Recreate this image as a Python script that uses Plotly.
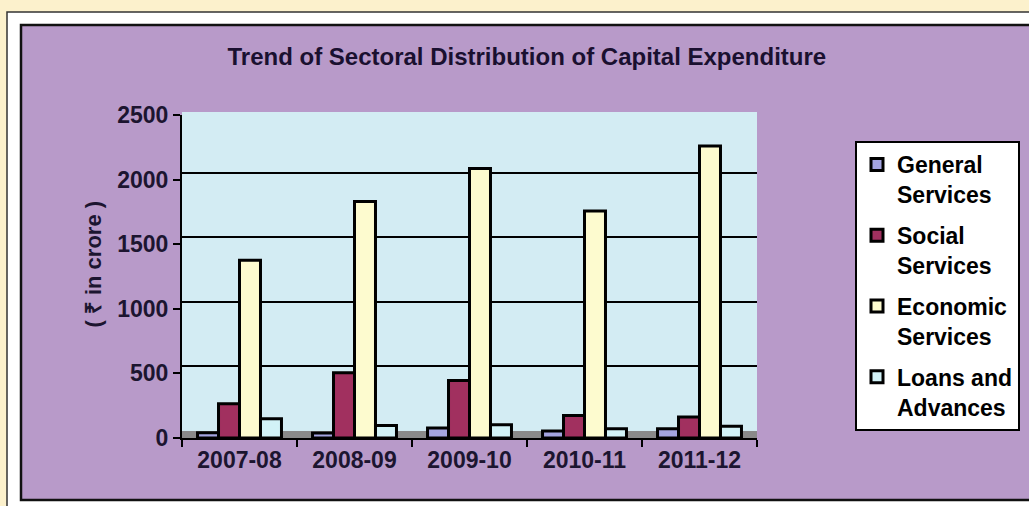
import plotly.graph_objects as go

years = ["2007-08", "2008-09", "2009-10", "2010-11", "2011-12"]
general = [40, 38, 77, 54, 71]
social = [265, 505, 445, 174, 162]
economic = [1375, 1830, 2085, 1757, 2260]
loans = [149, 97, 102, 71, 91]

series_names = ["General<br>Services", "Social<br>Services", "Economic<br>Services", "Loans and<br>Advances"]
series_values = [general, social, economic, loans]
colors = ["#a4a4e0", "#a1305f", "#fdfbcf", "#d2f2f7"]

y_ticks = [0, 500, 1000, 1500, 2000, 2500]
grid_ticks = [500, 1000, 1500, 2000]

fig = go.Figure()
for i, (name, vals, col) in enumerate(zip(series_names, series_values, colors)):
    fig.add_trace(go.Bar(
        x=years, y=vals, name="<b>" + name.replace("<br>", "</b><br><b>") + "</b>",
        legendgroup=str(i),
        marker=dict(color=col, line=dict(color="black", width=3)),
    ))

# invisible trace on overlay axis for the back-wall gridlines (drawn slightly raised, as in 3D)
fig.add_trace(go.Scatter(x=years, y=[None]*5, yaxis="y2", showlegend=False, hoverinfo="skip"))

fig.update_layout(
    width=1029, height=506,
    paper_bgcolor="#fcf1cc",
    plot_bgcolor="#d3ecf3",
    margin=dict(l=182, r=272, t=115, b=68),
    barmode="group",
    bargap=0.27,
    bargroupgap=0,
    font=dict(family="Liberation Sans, Arial, sans-serif", color="#1c1530"),
    title=dict(
        text="<b>Trend of Sectoral Distribution of Capital Expenditure</b>",
        font=dict(family="Liberation Sans, Arial", size=24, color="#1a1030"),
        x=0.512, xref="container", xanchor="center",
        y=1 - 57/506, yref="container", yanchor="middle",
    ),
    xaxis=dict(
        type="category",
        showline=True, linecolor="black", linewidth=2,
        ticks="outside", tickcolor="black", ticklen=7, tickwidth=2,
        tickson="boundaries",
        tickfont=dict(size=23, family="Liberation Sans, Arial", color="#1c1530"),
        showgrid=False,
        tickprefix="<b>", ticksuffix="</b>",
    ),
    yaxis=dict(
        range=[0, 2500],
        tickvals=y_ticks,
        ticktext=[f"<b>{v}</b>" for v in y_ticks],
        showline=True, linecolor="black", linewidth=2,
        ticks="outside", tickcolor="black", ticklen=7, tickwidth=2,
        tickfont=dict(size=23, family="Liberation Sans, Arial", color="#1c1530"),
        showgrid=False, zeroline=False,
        title=dict(text="&nbsp;&nbsp;&nbsp;&nbsp;<b>( ₹ in crore )</b>", font=dict(size=22, color="#1c1530"), standoff=10),
    ),
    yaxis2=dict(
        range=[-54, 2446], overlaying="y", tickvals=grid_ticks,
        showticklabels=False, showgrid=True, gridcolor="black", gridwidth=2,
        zeroline=False, showline=False,
    ),
    legend=dict(
        xref="container", yref="container",
        x=855/1029, y=1 - 141/506, xanchor="left", yanchor="top",
        bgcolor="white", bordercolor="black", borderwidth=2,
        font=dict(size=23, family="Liberation Sans, Arial", color="black"),
        valign="top", tracegroupgap=8,
        maxheight=1,
    ),
    showlegend=True,
    shapes=[
        dict(type="rect", xref="paper", yref="paper", x0=-175/575, x1=(1040-182)/575,
             y0=-(506-438)/323 - 0.2, y1=(438-12)/323, fillcolor="white",
             line=dict(color="#333333", width=1.5), layer="below"),
        dict(type="rect", xref="paper", yref="paper", x0=(21-182)/575, x1=(1040-182)/575,
             y0=-(500-438)/323, y1=(438-25)/323, fillcolor="#b89ac9",
             line=dict(color="#111111", width=2.5), layer="below"),
        dict(type="rect", xref="paper", yref="paper", x0=0, x1=1,
             y0=0, y1=(438-112)/323, fillcolor="#d3ecf3", line=dict(width=0), layer="below"),
        dict(type="rect", xref="paper", yref="paper", x0=0, x1=1,
             y0=0, y1=7/323, fillcolor="#8a8a8a", line=dict(width=0), layer="below"),
    ],
)

fig.write_html(
    "out.html",
    config={"displayModeBar": False},
    post_script="document.body.style.margin='0';document.body.style.background='#fcf1cc';",
)
